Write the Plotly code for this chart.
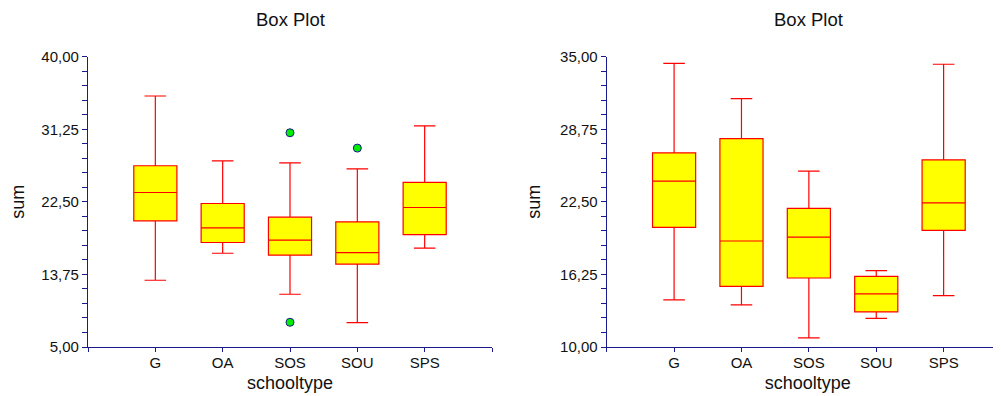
import plotly.graph_objects as go

categories = ["G", "OA", "SOS", "SOU", "SPS"]

# Left chart statistics
left_lower = [13.05, 16.30, 11.36, 7.95, 16.91]
left_q1 = [20.21, 17.60, 16.07, 14.98, 18.56]
left_median = [23.63, 19.36, 17.88, 16.39, 21.82]
left_q3 = [26.85, 22.30, 20.65, 20.09, 24.84]
left_upper = [35.26, 27.45, 27.21, 26.48, 31.67]
left_outlier_cat = ["SOS", "SOS", "SOU"]
left_outlier_val = [30.83, 7.98, 28.98]

# Right chart statistics
right_lower = [14.05, 13.62, 10.78, 12.47, 14.42]
right_q1 = [20.30, 15.22, 15.94, 13.02, 20.04]
right_median = [24.28, 19.13, 19.47, 14.57, 22.42]
right_q3 = [26.72, 27.95, 21.93, 16.08, 26.12]
right_upper = [34.43, 31.39, 25.14, 16.57, 34.35]

left_ticks = [5.0, 13.75, 22.5, 31.25, 40.0]
right_ticks = [10.0, 16.25, 22.5, 28.75, 35.0]

def fmt(v):
    return f"{v:.2f}".replace(".", ",")

FONT = "Arial, Liberation Sans, sans-serif"
NAVY = "#1a1a8c"
pos = list(range(len(categories)))

W, H = 1001.0, 396.0
OFF = 8.0  # page body margin offset

fig = go.Figure()

fig.add_trace(go.Box(
    x=pos, q1=left_q1, median=left_median, q3=left_q3,
    lowerfence=left_lower, upperfence=left_upper,
    fillcolor="#FFFF00", line=dict(color="#FF0000", width=1.2),
    width=0.64, whiskerwidth=0.5, boxpoints=False,
    xaxis="x", yaxis="y", showlegend=False, hoverinfo="y"))

fig.add_trace(go.Scatter(
    x=[categories.index(c) for c in left_outlier_cat], y=left_outlier_val,
    mode="markers",
    marker=dict(color="#00EE00", size=8, line=dict(color=NAVY, width=1)),
    xaxis="x", yaxis="y", showlegend=False))

fig.add_trace(go.Box(
    x=pos, q1=right_q1, median=right_median, q3=right_q3,
    lowerfence=right_lower, upperfence=right_upper,
    fillcolor="#FFFF00", line=dict(color="#FF0000", width=1.2),
    width=0.64, whiskerwidth=0.5, boxpoints=False,
    xaxis="x2", yaxis="y2", showlegend=False, hoverinfo="y"))

ydom = [(H - (347.0 - OFF)) / H, (H - (56.7 - OFF)) / H]

xcommon = dict(
    automargin=False,
    showline=True, linecolor=NAVY, linewidth=1.2, ticks="outside",
    tickcolor=NAVY, ticklen=4, tickwidth=1, showgrid=False, zeroline=False,
    tickfont=dict(family=FONT, size=15, color="#111111"),
    ticklabelstandoff=-2,
    tickmode="array", tickvals=[-1, 0, 1, 2, 3, 4, 5],
    ticktext=[""] + categories + [""],
    title=dict(text="schooltype", font=dict(family=FONT, size=18, color="#111111"), standoff=6),
)

ycommon = dict(
    automargin=False,
    showline=True, linecolor=NAVY, linewidth=1.2, ticks="outside",
    tickcolor=NAVY, ticklen=5, tickwidth=1, showgrid=False, zeroline=False,
    tickfont=dict(family=FONT, size=15, color="#111111"),
    tickmode="array",
    title=dict(text="sum", font=dict(family=FONT, size=18, color="#111111"), standoff=14),
)

fig.update_layout(
    width=W, height=H,
    margin=dict(l=0, r=0, t=0, b=0),
    paper_bgcolor="white", plot_bgcolor="white",
    font=dict(family=FONT),
    xaxis=dict(xcommon, domain=[(88 - OFF) / W, (492 - OFF) / W], range=[-1, 5], anchor="y"),
    yaxis=dict(ycommon, domain=ydom, range=[5, 40], anchor="x",
               tickvals=left_ticks, ticktext=[fmt(v) for v in left_ticks],
               minor=dict(ticks="outside", tick0=5, dtick=1.75, ticklen=5, tickcolor=NAVY, showgrid=False)),
    xaxis2=dict(xcommon, domain=[(606.7 - OFF) / W, 1.0], range=[-1, 4.97], anchor="y2"),
    yaxis2=dict(ycommon, domain=ydom, range=[10, 35], anchor="x2",
                tickvals=right_ticks, ticktext=[fmt(v) for v in right_ticks],
                minor=dict(ticks="outside", tick0=10, dtick=1.25, ticklen=5, tickcolor=NAVY, showgrid=False)),
    annotations=[
        dict(text="Box Plot", x=(290 - OFF) / W, y=1 - (19 - OFF) / H, xref="paper", yref="paper",
             showarrow=False, xanchor="center", yanchor="middle",
             font=dict(family=FONT, size=18.5, color="#111111")),
        dict(text="Box Plot", x=(808.7 - OFF) / W, y=1 - (19 - OFF) / H, xref="paper", yref="paper",
             showarrow=False, xanchor="center", yanchor="middle",
             font=dict(family=FONT, size=18.5, color="#111111")),
    ],
)

fig.write_html("out.html")
